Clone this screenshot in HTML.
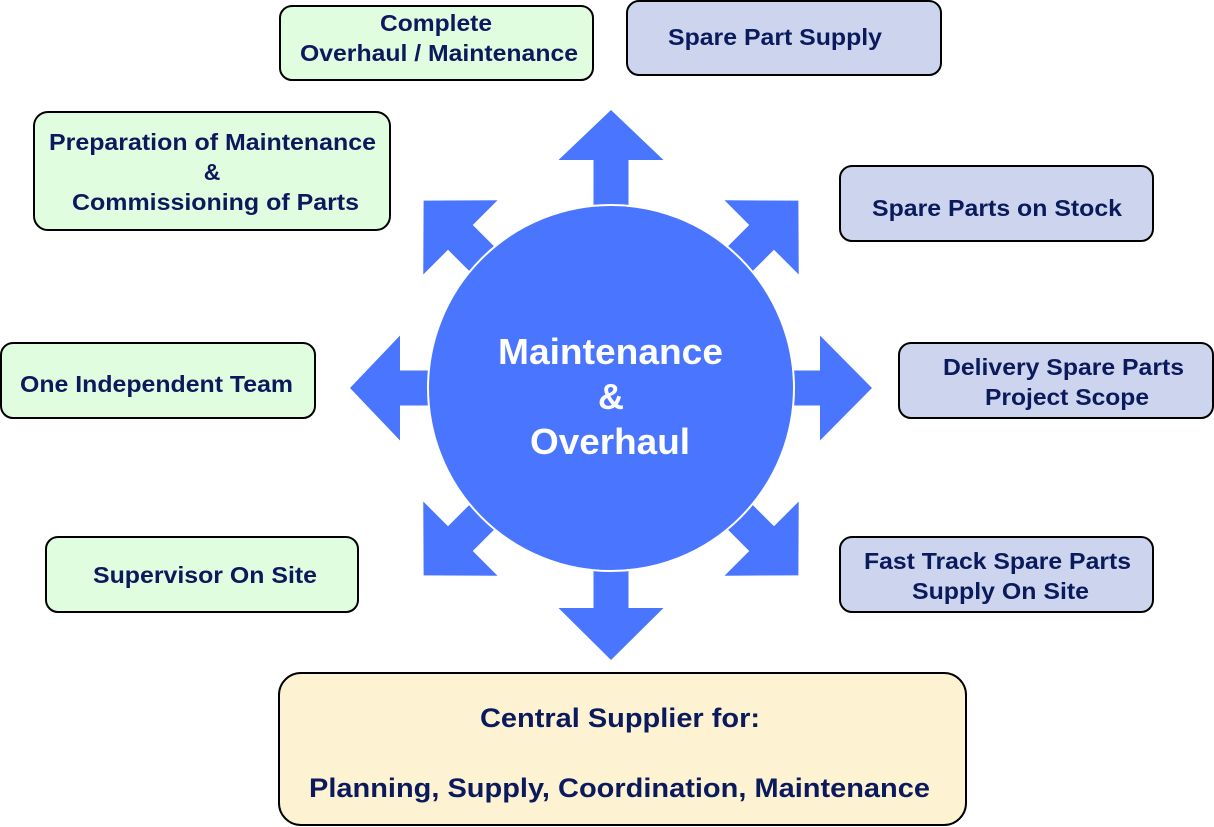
<!DOCTYPE html>
<html><head><meta charset="utf-8"><style>
html,body{margin:0;padding:0;background:#fff;}
svg{display:block;}
text{font-family:"Liberation Sans",Arial,sans-serif;font-weight:bold;fill:#0b1a5c;font-size:23px;}
</style></head><body>
<svg width="1214" height="827" viewBox="0 0 1214 827" xmlns="http://www.w3.org/2000/svg">
<g fill="#4a76ff">
  <g transform="translate(611,388)">
    <polygon points="-17.5,-180 -17.5,-228 -52.5,-228 0,-278 52.5,-228 17.5,-228 17.5,-180"/>
    <polygon transform="rotate(180)" points="-17.5,-180 -17.5,-220 -52.5,-220 0,-272 52.5,-220 17.5,-220 17.5,-180"/>
    <polygon transform="rotate(-90)" points="-17.5,-180 -17.5,-211 -52.5,-211 0,-261 52.5,-211 17.5,-211 17.5,-180"/>
    <polygon transform="rotate(90)" points="-17.5,-180 -17.5,-209 -52.5,-209 0,-261 52.5,-209 17.5,-209 17.5,-180"/>
    <polygon transform="rotate(-45)" points="-17.5,-178 -17.5,-213 -52.5,-213 0,-265 52.5,-213 17.5,-213 17.5,-178"/>
    <polygon transform="rotate(45)" points="-17.5,-178 -17.5,-213 -52.5,-213 0,-265 52.5,-213 17.5,-213 17.5,-178"/>
    <polygon transform="rotate(-135)" points="-17.5,-178 -17.5,-213 -52.5,-213 0,-265 52.5,-213 17.5,-213 17.5,-178"/>
    <polygon transform="rotate(135)" points="-17.5,-178 -17.5,-213 -52.5,-213 0,-265 52.5,-213 17.5,-213 17.5,-178"/>
  </g>
  <circle cx="611" cy="388" r="183" stroke="#fff" stroke-width="2"/>
</g>
<g>
  <text x="498" y="364" textLength="225" lengthAdjust="spacingAndGlyphs" style="fill:#fff;font-size:36px">Maintenance</text>
  <text x="611" y="409" text-anchor="middle" style="fill:#fff;font-size:36px">&amp;</text>
  <text x="530" y="454" textLength="160" lengthAdjust="spacingAndGlyphs" style="fill:#fff;font-size:36px">Overhaul</text>
</g>
<g stroke="#000" stroke-width="2">
  <rect x="280" y="6" width="313" height="74" rx="12" fill="#e0fde0"/>
  <rect x="627" y="1" width="314" height="74" rx="12" fill="#cdd5ee"/>
  <rect x="34" y="112" width="356" height="118" rx="14" fill="#e0fde0"/>
  <rect x="840" y="166" width="313" height="75" rx="12" fill="#cdd5ee"/>
  <rect x="1" y="343" width="314" height="75" rx="12" fill="#e0fde0"/>
  <rect x="899" y="343" width="314" height="75" rx="12" fill="#cdd5ee"/>
  <rect x="46" y="537" width="312" height="75" rx="12" fill="#e0fde0"/>
  <rect x="840" y="537" width="313" height="75" rx="12" fill="#cdd5ee"/>
  <rect x="279" y="673" width="687" height="152" rx="22" fill="#fdf3d2"/>
</g>
<g>
  <text x="380" y="31" textLength="112" lengthAdjust="spacingAndGlyphs">Complete</text>
  <text x="300" y="61" textLength="278" lengthAdjust="spacingAndGlyphs">Overhaul / Maintenance</text>
  <text x="668" y="45" textLength="214" lengthAdjust="spacingAndGlyphs">Spare Part Supply</text>
  <text x="49" y="150" textLength="327" lengthAdjust="spacingAndGlyphs">Preparation of Maintenance</text>
  <text x="212" y="180" text-anchor="middle">&amp;</text>
  <text x="72" y="210" textLength="287" lengthAdjust="spacingAndGlyphs">Commissioning of Parts</text>
  <text x="872" y="216" textLength="250" lengthAdjust="spacingAndGlyphs">Spare Parts on Stock</text>
  <text x="20" y="392" textLength="273" lengthAdjust="spacingAndGlyphs">One Independent Team</text>
  <text x="943" y="375" textLength="241" lengthAdjust="spacingAndGlyphs">Delivery Spare Parts</text>
  <text x="985" y="405" textLength="164" lengthAdjust="spacingAndGlyphs">Project Scope</text>
  <text x="93" y="583" textLength="224" lengthAdjust="spacingAndGlyphs">Supervisor On Site</text>
  <text x="864" y="569" textLength="267" lengthAdjust="spacingAndGlyphs">Fast Track Spare Parts</text>
  <text x="912" y="599" textLength="177" lengthAdjust="spacingAndGlyphs">Supply On Site</text>
  <text x="480" y="727" textLength="280" lengthAdjust="spacingAndGlyphs" style="font-size:27px">Central Supplier for:</text>
  <text x="309" y="797" textLength="621" lengthAdjust="spacingAndGlyphs" style="font-size:27px">Planning, Supply, Coordination, Maintenance</text>
</g>
</svg>
</body></html>
